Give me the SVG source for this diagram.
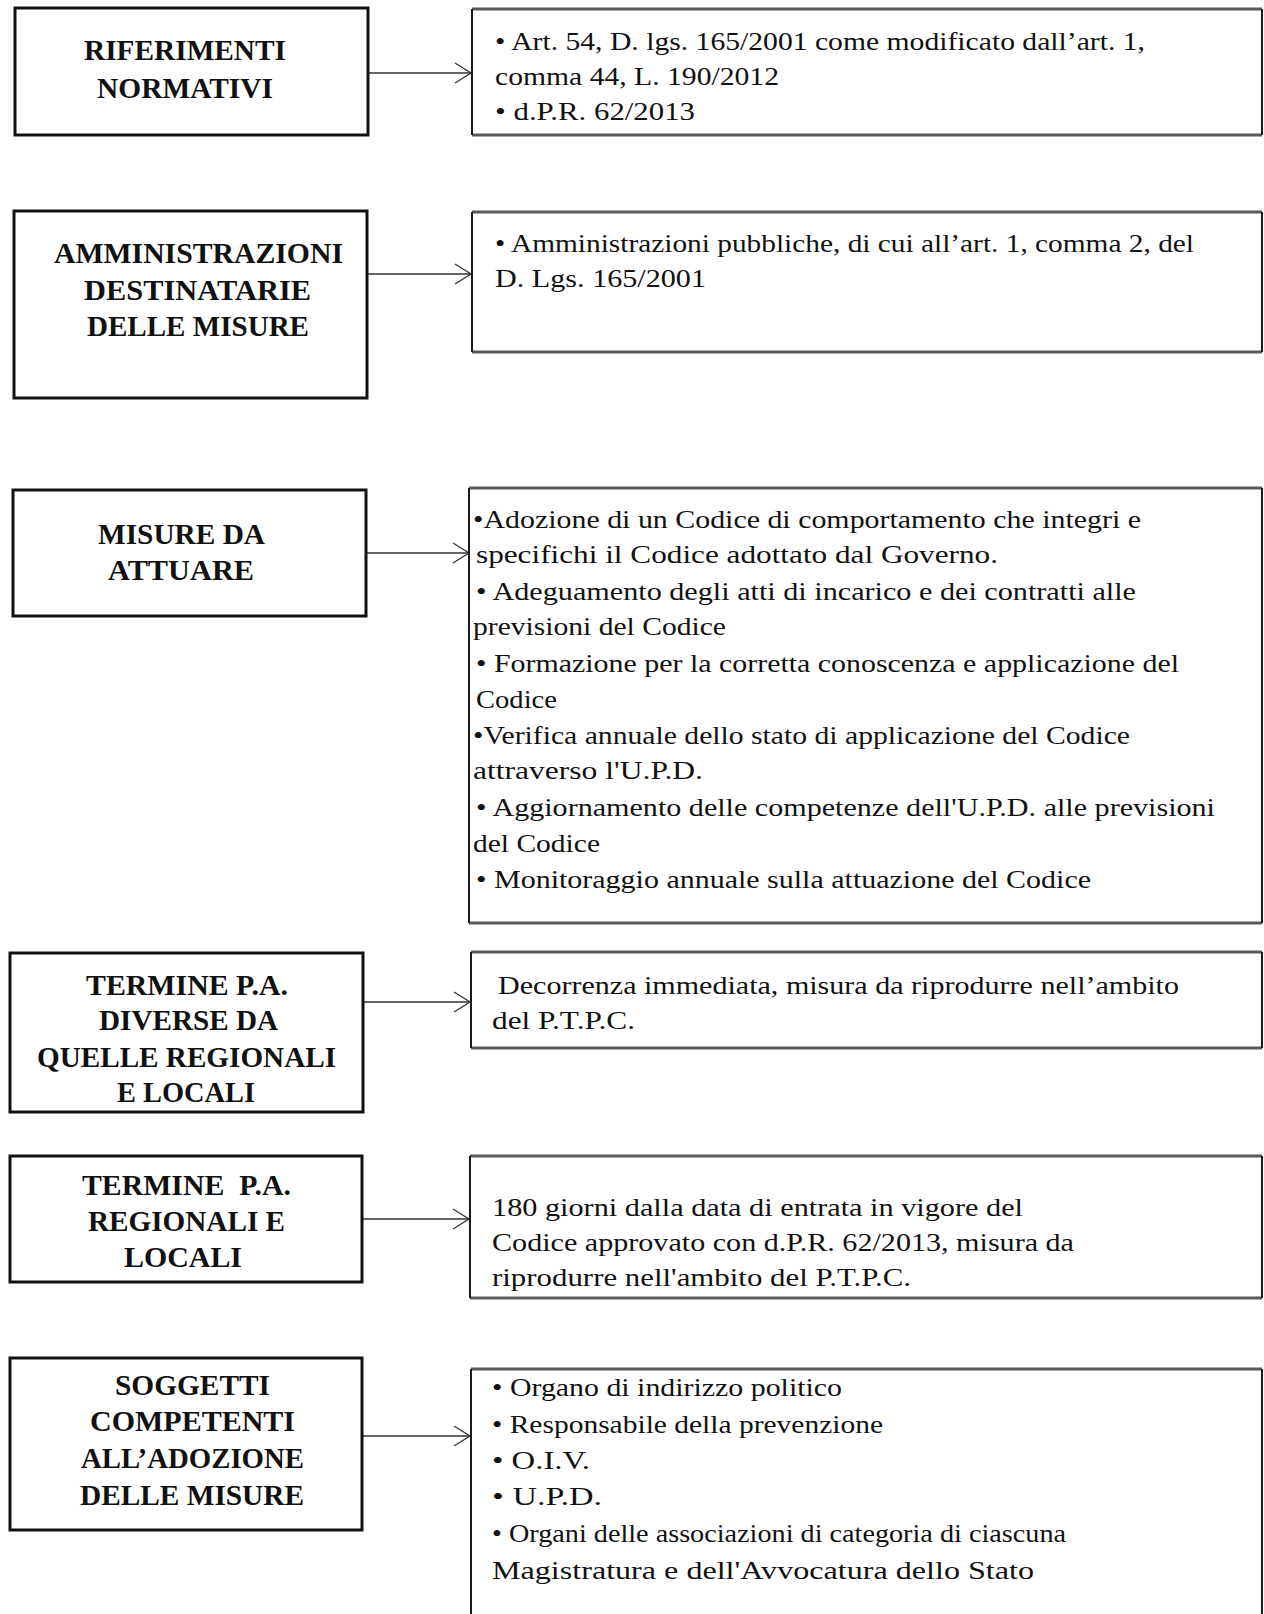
<svg xmlns="http://www.w3.org/2000/svg" width="1264" height="1614" viewBox="0 0 1264 1614">
<defs>
<style>
.lbox{fill:#fff;stroke:#111;stroke-width:3}
.rfill{fill:#fff;stroke:none}
.rside{stroke:#1a1a1a;stroke-width:2;fill:none}
.rtb{stroke:#5a5a5a;stroke-width:3;fill:none}
.lt{font-family:"Liberation Serif","Times New Roman",serif;font-weight:bold;font-size:30px;fill:#111}
.rt{font-family:"Liberation Serif","Times New Roman",serif;font-size:26px;fill:#111}
.conn{stroke:#333;stroke-width:1.3;fill:none}
</style>
<marker id="arr" markerUnits="userSpaceOnUse" markerWidth="22" markerHeight="24" refX="18" refY="12" orient="auto">
<path d="M2,2 L18,12 L2,22" fill="none" stroke="#333" stroke-width="1.3"/>
</marker>
</defs>
<rect width="1264" height="1614" fill="#fff"/>

<g id="connectors">
<line class="conn" x1="368" y1="73" x2="471" y2="73" marker-end="url(#arr)"/>
<line class="conn" x1="367" y1="274" x2="471" y2="274" marker-end="url(#arr)"/>
<line class="conn" x1="366" y1="553" x2="469" y2="553" marker-end="url(#arr)"/>
<line class="conn" x1="363" y1="1002" x2="470" y2="1002" marker-end="url(#arr)"/>
<line class="conn" x1="362" y1="1219" x2="469" y2="1219" marker-end="url(#arr)"/>
<line class="conn" x1="362" y1="1436" x2="470" y2="1436" marker-end="url(#arr)"/>
</g>

<g id="riferimenti">
<rect class="lbox" x="15" y="8" width="353" height="127"/>
<text class="lt" x="84" y="60" textLength="202" lengthAdjust="spacingAndGlyphs">RIFERIMENTI</text>
<text class="lt" x="97" y="98" textLength="176" lengthAdjust="spacingAndGlyphs">NORMATIVI</text>
</g>
<g id="riferimenti-testo">
<rect class="rfill" x="472" y="9" width="790" height="126"/>
<path class="rtb" d="M472,9 H1262 M472,135 H1262"/>
<path class="rside" d="M472,9 V135 M1262,9 V135"/>
<text class="rt" x="495" y="50" textLength="650" lengthAdjust="spacingAndGlyphs">• Art. 54, D. lgs. 165/2001 come modificato dall’art. 1,</text>
<text class="rt" x="495" y="85" textLength="284" lengthAdjust="spacingAndGlyphs">comma 44, L. 190/2012</text>
<text class="rt" x="495" y="120" textLength="200" lengthAdjust="spacingAndGlyphs">• d.P.R. 62/2013</text>
</g>

<g id="amministrazioni">
<rect class="lbox" x="14" y="211" width="353" height="187"/>
<text class="lt" x="54" y="263" textLength="289" lengthAdjust="spacingAndGlyphs">AMMINISTRAZIONI</text>
<text class="lt" x="84" y="300" textLength="227" lengthAdjust="spacingAndGlyphs">DESTINATARIE</text>
<text class="lt" x="87" y="336" textLength="222" lengthAdjust="spacingAndGlyphs">DELLE MISURE</text>
</g>
<g id="amministrazioni-testo">
<rect class="rfill" x="472" y="212" width="790" height="140"/>
<path class="rtb" d="M472,212 H1262 M472,352 H1262"/>
<path class="rside" d="M472,212 V352 M1262,212 V352"/>
<text class="rt" x="495" y="252" textLength="699" lengthAdjust="spacingAndGlyphs">• Amministrazioni pubbliche, di cui all’art. 1, comma 2, del</text>
<text class="rt" x="495" y="287" textLength="211" lengthAdjust="spacingAndGlyphs">D. Lgs. 165/2001</text>
</g>

<g id="misure">
<rect class="lbox" x="13" y="490" width="353" height="126"/>
<text class="lt" x="98" y="544" textLength="167" lengthAdjust="spacingAndGlyphs">MISURE DA</text>
<text class="lt" x="108" y="580" textLength="146" lengthAdjust="spacingAndGlyphs">ATTUARE</text>
</g>
<g id="misure-testo">
<rect class="rfill" x="469" y="488" width="793" height="435"/>
<path class="rtb" d="M469,488 H1262 M469,923 H1262"/>
<path class="rside" d="M469,488 V923 M1262,488 V923"/>
<text class="rt" x="473" y="528" textLength="668" lengthAdjust="spacingAndGlyphs">•Adozione di un Codice di comportamento che integri e</text>
<text class="rt" x="476" y="563" textLength="522" lengthAdjust="spacingAndGlyphs">specifichi il Codice adottato dal Governo.</text>
<text class="rt" x="476" y="600" textLength="660" lengthAdjust="spacingAndGlyphs">• Adeguamento degli atti di incarico e dei contratti alle</text>
<text class="rt" x="473" y="635" textLength="253" lengthAdjust="spacingAndGlyphs">previsioni del Codice</text>
<text class="rt" x="476" y="672" textLength="703" lengthAdjust="spacingAndGlyphs">• Formazione per la corretta conoscenza e applicazione del</text>
<text class="rt" x="476" y="708" textLength="81" lengthAdjust="spacingAndGlyphs">Codice</text>
<text class="rt" x="473" y="744" textLength="657" lengthAdjust="spacingAndGlyphs">•Verifica annuale dello stato di applicazione del Codice</text>
<text class="rt" x="473" y="779" textLength="230" lengthAdjust="spacingAndGlyphs">attraverso l'U.P.D.</text>
<text class="rt" x="476" y="816" textLength="739" lengthAdjust="spacingAndGlyphs">• Aggiornamento delle competenze dell'U.P.D. alle previsioni</text>
<text class="rt" x="473" y="852" textLength="127" lengthAdjust="spacingAndGlyphs">del Codice</text>
<text class="rt" x="476" y="888" textLength="615" lengthAdjust="spacingAndGlyphs">• Monitoraggio annuale sulla attuazione del Codice</text>
</g>

<g id="termine-diverse">
<rect class="lbox" x="10" y="953" width="353" height="159"/>
<text class="lt" x="86" y="995" textLength="202" lengthAdjust="spacingAndGlyphs">TERMINE P.A.</text>
<text class="lt" x="99" y="1030" textLength="179" lengthAdjust="spacingAndGlyphs">DIVERSE DA</text>
<text class="lt" x="37" y="1067" textLength="299" lengthAdjust="spacingAndGlyphs">QUELLE REGIONALI</text>
<text class="lt" x="117" y="1102" textLength="138" lengthAdjust="spacingAndGlyphs">E LOCALI</text>
</g>
<g id="termine-diverse-testo">
<rect class="rfill" x="471" y="952" width="791" height="96"/>
<path class="rtb" d="M471,952 H1262 M471,1048 H1262"/>
<path class="rside" d="M471,952 V1048 M1262,952 V1048"/>
<text class="rt" x="498" y="994" textLength="681" lengthAdjust="spacingAndGlyphs">Decorrenza immediata, misura da riprodurre nell’ambito</text>
<text class="rt" x="492" y="1029" textLength="143" lengthAdjust="spacingAndGlyphs">del P.T.P.C.</text>
</g>

<g id="termine-regionali">
<rect class="lbox" x="10" y="1156" width="352" height="126"/>
<text class="lt" x="82" y="1195" textLength="209" lengthAdjust="spacingAndGlyphs" xml:space="preserve">TERMINE  P.A.</text>
<text class="lt" x="88" y="1231" textLength="197" lengthAdjust="spacingAndGlyphs">REGIONALI E</text>
<text class="lt" x="124" y="1267" textLength="118" lengthAdjust="spacingAndGlyphs">LOCALI</text>
</g>
<g id="termine-regionali-testo">
<rect class="rfill" x="470" y="1156" width="792" height="142"/>
<path class="rtb" d="M470,1156 H1262 M470,1298 H1262"/>
<path class="rside" d="M470,1156 V1298 M1262,1156 V1298"/>
<text class="rt" x="492" y="1216" textLength="531" lengthAdjust="spacingAndGlyphs">180 giorni dalla data di entrata in vigore del</text>
<text class="rt" x="492" y="1251" textLength="582" lengthAdjust="spacingAndGlyphs">Codice approvato con d.P.R. 62/2013, misura da</text>
<text class="rt" x="492" y="1286" textLength="419" lengthAdjust="spacingAndGlyphs">riprodurre nell'ambito del P.T.P.C.</text>
</g>

<g id="soggetti">
<rect class="lbox" x="10" y="1358" width="352" height="172"/>
<text class="lt" x="115" y="1395" textLength="155" lengthAdjust="spacingAndGlyphs">SOGGETTI</text>
<text class="lt" x="90" y="1431" textLength="205" lengthAdjust="spacingAndGlyphs">COMPETENTI</text>
<text class="lt" x="81" y="1468" textLength="223" lengthAdjust="spacingAndGlyphs">ALL’ADOZIONE</text>
<text class="lt" x="80" y="1505" textLength="224" lengthAdjust="spacingAndGlyphs">DELLE MISURE</text>
</g>
<g id="soggetti-testo">
<path class="rtb" d="M471,1369 H1262"/>
<path class="rside" d="M471,1369 V1620 M1262,1369 V1620"/>
<text class="rt" x="492" y="1396" textLength="350" lengthAdjust="spacingAndGlyphs">• Organo di indirizzo politico</text>
<text class="rt" x="492" y="1433" textLength="391" lengthAdjust="spacingAndGlyphs">• Responsabile della prevenzione</text>
<text class="rt" x="492" y="1469" textLength="98" lengthAdjust="spacingAndGlyphs">• O.I.V.</text>
<text class="rt" x="492" y="1505" textLength="110" lengthAdjust="spacingAndGlyphs">• U.P.D.</text>
<text class="rt" x="492" y="1542" textLength="574" lengthAdjust="spacingAndGlyphs">• Organi delle associazioni di categoria di ciascuna</text>
<text class="rt" x="492" y="1579" textLength="542" lengthAdjust="spacingAndGlyphs">Magistratura e dell'Avvocatura dello Stato</text>
</g>
</svg>
